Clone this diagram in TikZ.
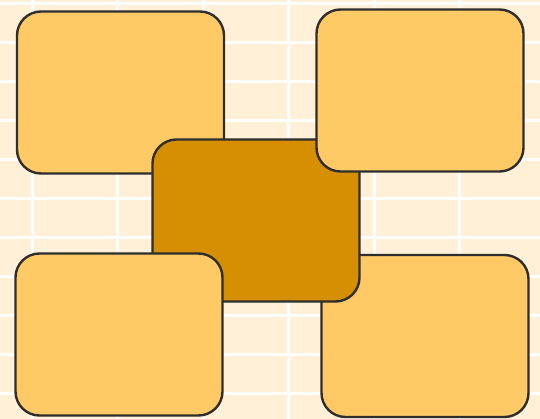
\documentclass[tikz,border=0pt]{standalone}
\usetikzlibrary{positioning}
\definecolor{bgcream}{HTML}{FFF0D7}
\definecolor{tilelight}{HTML}{FFCA66}
\definecolor{tiledark}{HTML}{D68F00}
\definecolor{edgegray}{HTML}{2E2E2E}

\begin{document}
\begin{tikzpicture}[
        x=1pt, y=-1pt,
        tile/.style={draw=edgegray, line width=2.4pt, rounded corners=24pt,
                     minimum width=207pt, minimum height=162pt, inner sep=0pt, outer sep=0pt},
        gridline/.style={white, line width=3pt},
    ]
        \useasboundingbox (0,0) rectangle (540,419);

        % --- Background with grid ---
        \fill[bgcream] (0,0) rectangle (540,419);
        \foreach \gx in {32,117.5,203,288.5,374,459.5}
            \draw[gridline] (\gx,0) -- (\gx,419);
        \foreach \gy in {4,43,82,121,160,199,238,277,315.5,354,393}
            \draw[gridline] (0,\gy) -- (540,\gy);

        % --- Tiles (back to front) ---
        \node[tile, fill=tilelight] (tileNW) at (120.5,92.5)  {};
        \node[tile, fill=tilelight] (tileSE) at (425,336)     {};
        \node[tile, fill=tiledark]  (hub)    at (256,220.5)   {};
        \node[tile, fill=tilelight] (tileNE) at (420,90.5)    {};
        \node[tile, fill=tilelight] (tileSW) at (119,334.5)   {};
    \end{tikzpicture}
\end{document}
